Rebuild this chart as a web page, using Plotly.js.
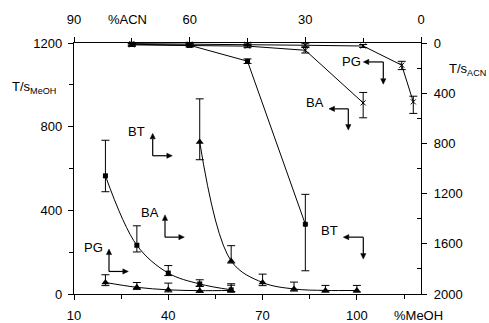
<!DOCTYPE html>
<html>
<head>
<meta charset="utf-8">
<script src="https://cdn.plot.ly/plotly-3.0.1.min.js"></script>
<style>html,body{margin:0;padding:0;background:#fff}#chart{width:489px;height:323px}</style>
</head>
<body>
<div id="chart"></div>
<script>
// ---- MeOH series (bottom x: %MeOH, left y: T/s_MeOH) ----
const meohBT_x = [20, 30, 40, 50, 60];
const meohBT_y = [565, 233, 100, 48, 20];
const meohBT_ep = [170, 93, 36, 20, 29];
const meohBT_em = [76, 32, 12, 12, 8];

const meohBA_x = [50, 60, 70, 80, 90, 100];
const meohBA_y = [727, 158, 55, 24, 17, 17];
const meohBA_ep = [206, 73, 40, 33, 24, 24];
const meohBA_em = [85, 10, 15, 10, 8, 8];

const meohPG_x = [20, 30, 40, 50, 60];
const meohPG_y = [55, 32, 20, 16, 17];
const meohPG_ep = [37, 23, 32, 22, 25];
const meohPG_em = [15, 10, 10, 8, 8];

// ---- ACN series (top x: %ACN, right y: T/s_ACN, reversed) ----
const acnBT_x = [75, 60, 45, 30];
const acnBT_y = [10, 18, 145, 1444];
const acnBT_ep = [12, 12, 18, 371];
const acnBT_em = [10, 10, 18, 238];

const acnBA_x = [75, 60, 45, 30, 15];
const acnBA_y = [15, 20, 25, 58, 477];
const acnBA_ep = [12, 12, 12, 22, 119];
const acnBA_em = [12, 12, 12, 22, 83];

const acnPG_x = [75, 60, 45, 30, 15, 5, 2];
const acnPG_y = [5, 8, 10, 18, 24, 177, 469];
const acnPG_ep = [10, 10, 10, 12, 12, 35, 92];
const acnPG_em = [5, 8, 10, 12, 12, 31, 45];

const meohTicks = [10, 40, 70, 100];
const meohMinor = [25, 55, 85, 115];
const acnTicks = [90, 60, 30, 0];
const acnMinor = [75, 45, 15];
const tMeohTicks = [0, 400, 800, 1200];
const tMeohMinor = [200, 600, 1000];
const tAcnTicks = [0, 400, 800, 1200, 1600, 2000];
const tAcnMinor = [200, 600, 1000, 1400, 1800];

const FONT = 'Arial, "Liberation Sans", sans-serif';

function err(p, m) {
  return {type: 'data', symmetric: false, array: p, arrayminus: m,
          color: '#000', thickness: 1, width: 4};
}
function meohTrace(x, y, ep, em, sym, sz) {
  return {x: x, y: y, xaxis: 'x', yaxis: 'y', type: 'scatter', mode: 'lines+markers',
          line: {color: '#000', width: 1, shape: 'spline', smoothing: 1},
          marker: {symbol: sym, size: sz, color: '#000'},
          error_y: err(ep, em), showlegend: false, cliponaxis: false};
}
function acnTrace(x, y, ep, em, sym, sz) {
  return {x: x, y: y, xaxis: 'x2', yaxis: 'y2', type: 'scatter', mode: 'lines+markers',
          line: {color: '#000', width: 1},
          marker: {symbol: sym, size: sz, color: '#000', line: {color: '#000', width: 1}},
          error_y: err(ep, em), showlegend: false, cliponaxis: false};
}

const data = [
  meohTrace(meohBT_x, meohBT_y, meohBT_ep, meohBT_em, 'square', 5),
  meohTrace(meohBA_x, meohBA_y, meohBA_ep, meohBA_em, 'triangle-up', 7),
  meohTrace(meohPG_x, meohPG_y, meohPG_ep, meohPG_em, 'triangle-up', 7),
  acnTrace(acnBT_x, acnBT_y, acnBT_ep, acnBT_em, 'square', 4),
  acnTrace(acnBA_x, acnBA_y, acnBA_ep, acnBA_em, 'x-thin', 5),
  acnTrace(acnPG_x, acnPG_y, acnPG_ep, acnPG_em, 'x-thin', 5)
];

// plot area in pixels
const L = 74, R = 421, T = 42.7, B = 294.3;
const W = R - L, H = B - T;
const px = v => (v - L) / W;
const py = v => (B - v) / H;

const annotations = [];
const shapes = [];
function label(txt, cx, cy) {
  annotations.push({xref: 'paper', yref: 'paper', x: px(cx), y: py(cy), text: txt,
    showarrow: false, xanchor: 'center', yanchor: 'middle',
    font: {family: FONT, size: 13, color: '#000'}});
}
// arrow from tail (corner) to tip, drawn with shapes
function arrow(tipX, tipY, tailX, tailY) {
  const dx = tipX - tailX, dy = tipY - tailY;
  const len = Math.hypot(dx, dy), ux = dx / len, uy = dy / len;
  const hl = 5.5, hw = 2.6;
  const bx = tipX - ux * hl, by = tipY - uy * hl;
  shapes.push({type: 'line', xref: 'paper', yref: 'paper',
    x0: px(tailX), y0: py(tailY), x1: px(bx), y1: py(by),
    line: {color: '#000', width: 1.2}});
  const p1x = bx - uy * hw, p1y = by + ux * hw;
  const p2x = bx + uy * hw, p2y = by - ux * hw;
  shapes.push({type: 'path', xref: 'paper', yref: 'paper',
    path: 'M ' + px(tipX) + ' ' + py(tipY) + ' L ' + px(p1x) + ' ' + py(p1y) +
          ' L ' + px(p2x) + ' ' + py(p2y) + ' Z',
    fillcolor: '#000', line: {color: '#000', width: 0.5}});
}
// MeOH labels (arrows up and right)
label('BT', 136.7, 131.7); arrow(152.7, 133.3, 152.7, 155.7); arrow(172.3, 155.7, 152.7, 155.7);
label('BA', 150, 212.5);   arrow(165, 215, 165, 237.3);       arrow(184.3, 237.3, 165, 237.3);
label('PG', 93.7, 247.5);  arrow(109, 249.3, 109, 271.7);     arrow(128.3, 271.7, 109, 271.7);
// ACN labels (arrows left and down)
label('PG', 351.3, 61);    arrow(363.3, 61.7, 383.3, 61.7);   arrow(383.3, 84, 383.3, 61.7);
label('BA', 315, 102.5);   arrow(329, 108.7, 348.3, 108.7);   arrow(348.3, 130, 348.3, 108.7);
label('BT', 329.7, 230.5); arrow(343.3, 237.3, 363.3, 237.3); arrow(363.3, 259.3, 363.3, 237.3);
// axis titles
label('%ACN', 127.3, 19);
label('%MeOH', 418.3, 315.5);
label('T/s<sub>MeOH</sub>', 34, 87);
label('T/s<sub>ACN</sub>', 467, 69);

const axBase = {showgrid: false, zeroline: false, showline: true, linecolor: '#000', linewidth: 1.2,
  ticks: 'outside', ticklen: 5, tickwidth: 1, tickcolor: '#000',
  tickfont: {family: FONT, size: 13, color: '#000'}, fixedrange: true};

const layout = {
  width: 489, height: 323,
  margin: {l: L, r: 489 - R, t: T, b: 323 - B, pad: 0},
  paper_bgcolor: '#fff', plot_bgcolor: '#fff',
  font: {family: FONT, size: 13, color: '#000'},
  showlegend: false,
  xaxis: Object.assign({}, axBase, {range: [10, 120.4], tickmode: 'array', tickvals: meohTicks,
    ticktext: meohTicks.map(String), ticklabelstandoff: 4,
    minor: {tickmode: 'array', tickvals: meohMinor, ticks: 'outside', ticklen: 4, tickcolor: '#000'}}),
  xaxis2: Object.assign({}, axBase, {overlaying: 'x', side: 'top', anchor: 'y', range: [90, 0],
    tickmode: 'array', tickvals: acnTicks, ticktext: acnTicks.map(String), ticklabelstandoff: 8,
    minor: {tickmode: 'array', tickvals: acnMinor, ticks: 'outside', ticklen: 4, tickcolor: '#000'}}),
  yaxis: Object.assign({}, axBase, {range: [0, 1200], tickmode: 'array', tickvals: tMeohTicks,
    ticktext: tMeohTicks.map(String), ticklabelstandoff: 3,
    minor: {tickmode: 'array', tickvals: tMeohMinor, ticks: 'outside', ticklen: 4, tickcolor: '#000'}}),
  yaxis2: Object.assign({}, axBase, {overlaying: 'y', side: 'right', anchor: 'x', range: [2000, 0],
    tickmode: 'array', tickvals: tAcnTicks, ticktext: tAcnTicks.map(String), ticklabelstandoff: 4,
    minor: {tickmode: 'array', tickvals: tAcnMinor, ticks: 'inside', ticklen: 4, tickcolor: '#000'}}),
  annotations: annotations,
  shapes: shapes
};

Plotly.newPlot('chart', data, layout, {staticPlot: true, displayModeBar: false});
</script>
</body>
</html>
